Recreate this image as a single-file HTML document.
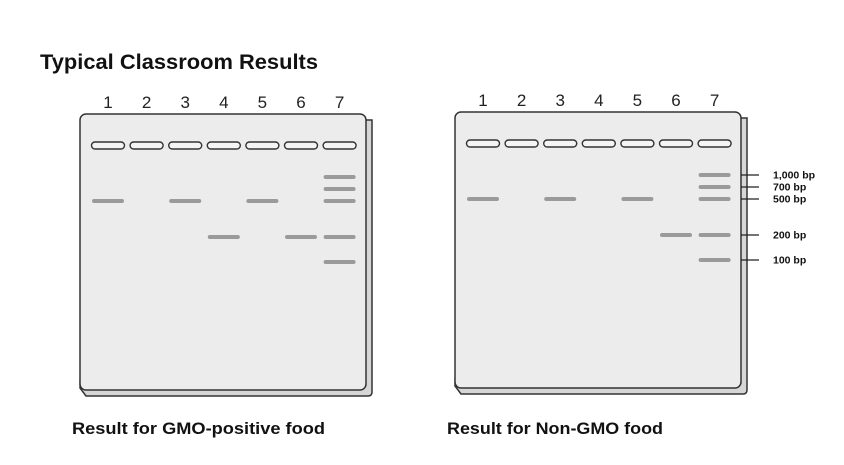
<!DOCTYPE html>
<html><head><meta charset="utf-8"><style>
body{margin:0;background:#fff;}
svg{display:block;font-family:"Liberation Sans",Arial,sans-serif;}
</style></head><body>
<svg id="c" width="844" height="465" viewBox="0 0 844 465">
<text x="40" y="69" font-size="21" font-weight="bold" fill="#111" textLength="278" lengthAdjust="spacingAndGlyphs">Typical Classroom Results</text>
<text x="72" y="434" font-size="17" font-weight="bold" fill="#111" textLength="253" lengthAdjust="spacingAndGlyphs">Result for GMO-positive food</text>
<text x="447" y="434" font-size="17" font-weight="bold" fill="#111" textLength="216" lengthAdjust="spacingAndGlyphs">Result for Non-GMO food</text>
</svg>
<script>
const lanes = [1,2,3,4,5,6,7];
const ladderSizes = [1000,700,500,200,100];
const ladderLabels = ["1,000 bp","700 bp","500 bp","200 bp","100 bp"];
const gmoBands = [[500],[],[500],[200],[500],[200],[1000,700,500,200,100]];
const nonGmoBands = [[500],[],[500],[],[500],[200],[1000,700,500,200,100]];
const bandY = {1000:177,700:189,500:201,200:237,100:262};

const NS="http://www.w3.org/2000/svg";
const svg=document.getElementById('c');
function mk(t,a,p){const e=document.createElementNS(NS,t);for(const k in a)e.setAttribute(k,a[k]);(p||svg).appendChild(e);return e;}
function laneX(x0,i){return x0+28+i*38.6;}
function drawGel(x0,dy,bands,name,showLadder){
  const g=mk('g',{});
  
  
  const sh=mk('path',{d:`M${x0+6} ${120+dy} L${x0+292} ${120+dy} L${x0+292} ${392+dy} Q${x0+292} ${396+dy} ${x0+288} ${396+dy} L${x0+6} ${396+dy} L${x0} ${388+dy} Z`,fill:'#d6d6d6',stroke:'#333','stroke-width':1.5},g);
  
  
  const r=mk('rect',{x:x0,y:114+dy,width:286,height:276,rx:6,fill:'#ececec',stroke:'#333','stroke-width':1.5},g);
  
  
  lanes.forEach((l,i)=>{
    const cx=laneX(x0,i);
    const t=mk('text',{x:cx,y:108+dy,'font-size':17,'text-anchor':'middle',fill:'#222'},g);
    t.textContent=l;
    
    
    const w=mk('rect',{x:cx-16.5,y:142+dy,width:33,height:7,rx:3.5,fill:'#f4f4f4',stroke:'#333','stroke-width':1.4},g);
    
    
    bands[i].forEach(s=>{
      const b=mk('line',{x1:cx-14,x2:cx+14,y1:bandY[s]+dy,y2:bandY[s]+dy,stroke:'#9a9a9a','stroke-width':4,'stroke-linecap':'round'},g);
      
      
    });
  });
  if(showLadder){
    ladderSizes.forEach((s,i)=>{
      const y=bandY[s]+dy;
      const tk=mk('line',{x1:x0+286,x2:x0+304,y1:y,y2:y,stroke:'#222','stroke-width':1.2},g);
      
      
      const tx=mk('text',{x:x0+318,y:y+3.5,'font-size':10.5,'font-weight':'bold',fill:'#111'},g);
      tx.textContent=ladderLabels[i];
      
      
    });
  }
}
drawGel(80,0,gmoBands,'gmo-gel',false);
drawGel(455,-2,nonGmoBands,'non-gmo-gel',true);
</script>
</body></html>
